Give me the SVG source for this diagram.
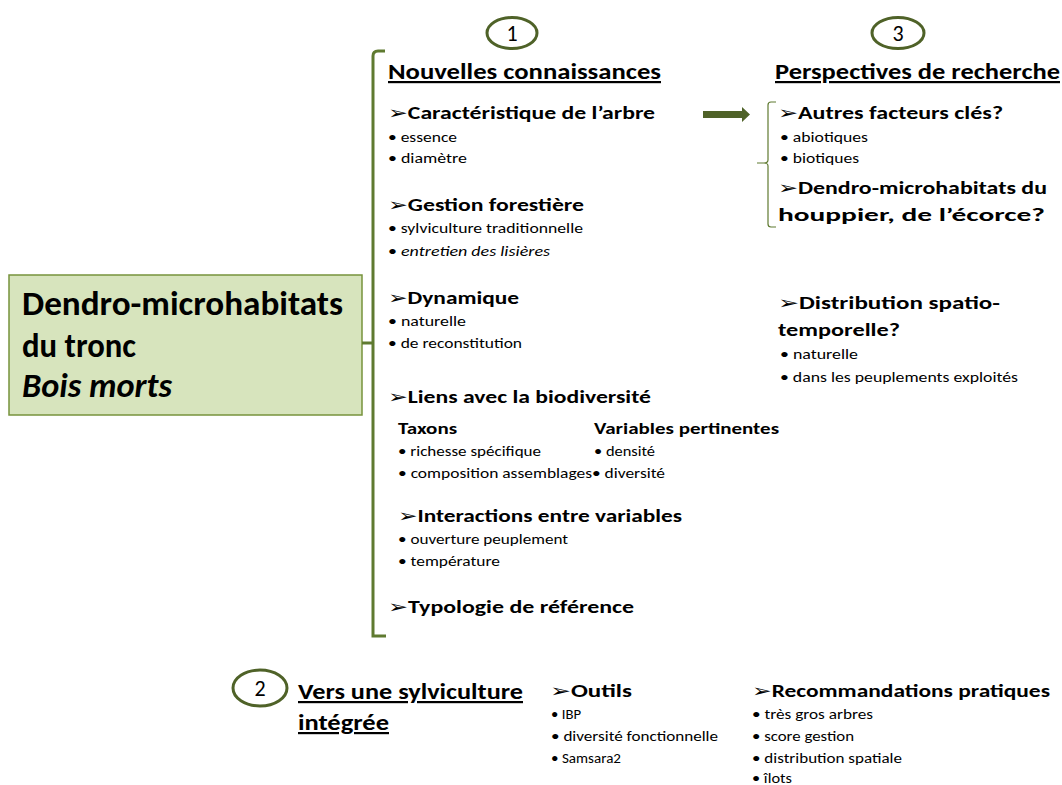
<svg xmlns="http://www.w3.org/2000/svg" width="1062" height="785" viewBox="0 0 1062 785">
  <defs>
    <style>
      text { font-family: Carlito, Calibri, "Open Sans", "Liberation Sans", sans-serif; fill: #000; }
      .ttl { font-size: 22px; font-weight: bold; text-decoration: underline; }
      .hd { font-size: 18px; font-weight: bold; }
      .sub { font-size: 16px; font-weight: bold; }
      .it { font-size: 14px; }
      .big { font-size: 34px; font-weight: bold; }
      .ar { font-family: "DejaVu Sans", sans-serif; font-weight: normal; }
      .num { font-size: 22px; text-anchor: middle; }
      .ring { fill: #fff; stroke: #4f6228; stroke-width: 3; }
      .brk { fill: none; stroke: #5f7a30; stroke-width: 3; }
      .brace { fill: none; stroke: #5f7a30; stroke-width: 1.2; }
    </style>
  </defs>

  <!-- central topic -->
  <g id="topic">
    <rect x="9" y="275" width="353" height="140" fill="#d7e4bd" stroke="#77933c" stroke-width="1.5"/>
    <text class="big" x="22" y="315" textLength="321" lengthAdjust="spacingAndGlyphs">Dendro-microhabitats</text>
    <text class="big" x="22" y="357" textLength="114" lengthAdjust="spacingAndGlyphs">du tronc</text>
    <text class="big" x="22" y="397" font-style="italic" textLength="150" lengthAdjust="spacingAndGlyphs">Bois morts</text>
  </g>

  <!-- connectors -->
  <g id="connectors">
    <path class="brk" d="M385,51 H378 Q373,51 373,56 V636 H386"/>
    <path class="brk" d="M362,343 H373"/>
    <path d="M703,111 H742 V107 L750,114.5 L742,122 V118 H703 Z" fill="#4f6228"/>
    <path class="brace" d="M776,102 H771 Q768,102 768,105 V160 Q768,163 764,163 H757 M764,163 Q768,163 768,166 V224 Q768,227 771,227 H776"/>
  </g>

  <!-- section 1 -->
  <g id="n1">
    <ellipse class="ring" cx="512" cy="33" rx="25" ry="15.5"/>
    <text class="num" x="512" y="41">1</text>
    <text class="ttl" x="388" y="79" textLength="273" lengthAdjust="spacingAndGlyphs">Nouvelles connaissances</text>
  </g>

  <g id="caracteristique">
    <text class="hd" x="388" y="119" textLength="267" lengthAdjust="spacingAndGlyphs"><tspan class="ar">➢</tspan>Caractéristique de l’arbre</text>
    <text class="it" x="388" y="142" textLength="69" lengthAdjust="spacingAndGlyphs">• essence</text>
    <text class="it" x="388" y="163" textLength="79" lengthAdjust="spacingAndGlyphs">• diamètre</text>
  </g>

  <g id="gestion">
    <text class="hd" x="388" y="211" textLength="196" lengthAdjust="spacingAndGlyphs"><tspan class="ar">➢</tspan>Gestion forestière</text>
    <text class="it" x="388" y="233" textLength="195" lengthAdjust="spacingAndGlyphs">• sylviculture traditionnelle</text>
    <text class="it" x="388" y="256" textLength="162" lengthAdjust="spacingAndGlyphs">• <tspan font-style="italic">entretien des lisières</tspan></text>
  </g>

  <g id="dynamique">
    <text class="hd" x="388" y="304" textLength="131" lengthAdjust="spacingAndGlyphs"><tspan class="ar">➢</tspan>Dynamique</text>
    <text class="it" x="388" y="326" textLength="78" lengthAdjust="spacingAndGlyphs">• naturelle</text>
    <text class="it" x="388" y="348" textLength="134" lengthAdjust="spacingAndGlyphs">• de reconstitution</text>
  </g>

  <g id="liens">
    <text class="hd" x="388" y="403" textLength="263" lengthAdjust="spacingAndGlyphs"><tspan class="ar">➢</tspan>Liens avec la biodiversité</text>
    <text class="sub" x="398" y="434" textLength="59" lengthAdjust="spacingAndGlyphs">Taxons</text>
    <text class="it" x="398" y="456" textLength="143" lengthAdjust="spacingAndGlyphs">• richesse spécifique</text>
    <text class="it" x="398" y="478" textLength="194" lengthAdjust="spacingAndGlyphs">• composition assemblages</text>
    <text class="sub" x="594" y="434" textLength="185" lengthAdjust="spacingAndGlyphs">Variables pertinentes</text>
    <text class="it" x="594" y="456" textLength="61" lengthAdjust="spacingAndGlyphs">• densité</text>
    <text class="it" x="592" y="478" textLength="73" lengthAdjust="spacingAndGlyphs">• diversité</text>
  </g>

  <g id="interactions">
    <text class="hd" x="398" y="522" textLength="284" lengthAdjust="spacingAndGlyphs"><tspan class="ar">➢</tspan>Interactions entre variables</text>
    <text class="it" x="398" y="544" textLength="170" lengthAdjust="spacingAndGlyphs">• ouverture peuplement</text>
    <text class="it" x="398" y="566" textLength="102" lengthAdjust="spacingAndGlyphs">• température</text>
  </g>

  <g id="typologie">
    <text class="hd" x="388" y="613" textLength="246" lengthAdjust="spacingAndGlyphs"><tspan class="ar">➢</tspan>Typologie de référence</text>
  </g>

  <!-- section 3 -->
  <g id="n3">
    <ellipse class="ring" cx="898" cy="33" rx="26" ry="15.5"/>
    <text class="num" x="898" y="41">3</text>
    <text class="ttl" x="775" y="79" textLength="285" lengthAdjust="spacingAndGlyphs">Perspectives de recherche</text>
  </g>

  <g id="facteurs">
    <text class="hd" x="778" y="119" textLength="225" lengthAdjust="spacingAndGlyphs"><tspan class="ar">➢</tspan>Autres facteurs clés?</text>
    <text class="it" x="780" y="142" textLength="88" lengthAdjust="spacingAndGlyphs">• abiotiques</text>
    <text class="it" x="780" y="163" textLength="79" lengthAdjust="spacingAndGlyphs">• biotiques</text>
  </g>

  <g id="houppier">
    <text class="hd" x="778" y="194" textLength="269" lengthAdjust="spacingAndGlyphs"><tspan class="ar">➢</tspan>Dendro-microhabitats  du</text>
    <text class="hd" x="778" y="221" textLength="267" lengthAdjust="spacingAndGlyphs">houppier, de l’écorce?</text>
  </g>

  <g id="distribution">
    <text class="hd" x="778" y="309" textLength="222" lengthAdjust="spacingAndGlyphs"><tspan class="ar">➢</tspan>Distribution spatio-</text>
    <text class="hd" x="778" y="336" textLength="122" lengthAdjust="spacingAndGlyphs">temporelle?</text>
    <text class="it" x="780" y="359" textLength="78" lengthAdjust="spacingAndGlyphs">• naturelle</text>
    <text class="it" x="780" y="382" textLength="238" lengthAdjust="spacingAndGlyphs">• dans les peuplements exploités</text>
  </g>

  <!-- section 2 -->
  <g id="n2">
    <ellipse class="ring" cx="260" cy="688" rx="27" ry="18"/>
    <text class="num" x="260" y="696">2</text>
    <text class="ttl" x="298" y="699" textLength="225" lengthAdjust="spacingAndGlyphs">Vers une sylviculture</text>
    <text class="ttl" x="298" y="730" textLength="91" lengthAdjust="spacingAndGlyphs">intégrée</text>
  </g>

  <g id="outils">
    <text class="hd" x="550" y="697" textLength="82" lengthAdjust="spacingAndGlyphs"><tspan class="ar">➢</tspan>Outils</text>
    <text class="it" x="551" y="719" textLength="30" lengthAdjust="spacingAndGlyphs">• IBP</text>
    <text class="it" x="551" y="741" textLength="167" lengthAdjust="spacingAndGlyphs">• diversité fonctionnelle</text>
    <text class="it" x="551" y="763" textLength="70" lengthAdjust="spacingAndGlyphs">• Samsara2</text>
  </g>

  <g id="recommandations">
    <text class="hd" x="752" y="697" textLength="298" lengthAdjust="spacingAndGlyphs"><tspan class="ar">➢</tspan>Recommandations  pratiques</text>
    <text class="it" x="752" y="719" textLength="121" lengthAdjust="spacingAndGlyphs">• très gros arbres</text>
    <text class="it" x="752" y="741" textLength="102" lengthAdjust="spacingAndGlyphs">• score gestion</text>
    <text class="it" x="752" y="763" textLength="150" lengthAdjust="spacingAndGlyphs">• distribution spatiale</text>
    <text class="it" x="752" y="783" textLength="40" lengthAdjust="spacingAndGlyphs">• îlots</text>
  </g>
</svg>
